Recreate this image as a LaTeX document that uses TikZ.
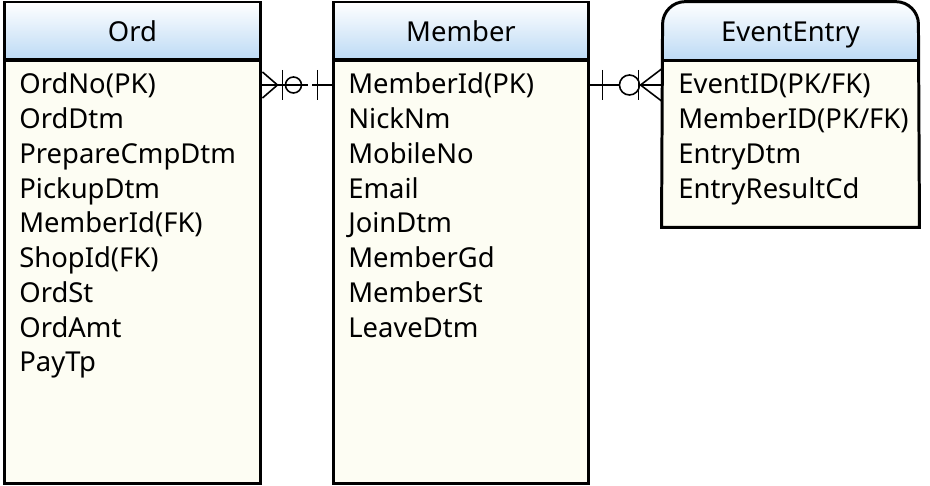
\documentclass[tikz,border=0pt]{standalone}
\usepackage{fontspec}
\setmainfont{Noto Sans}
\usetikzlibrary{backgrounds,calc,positioning}
\definecolor{headblue}{HTML}{BCDAF5}
\definecolor{bodyfill}{HTML}{FDFDF3}
\tikzset{
  entityline/.style={draw=black, line width=1.7pt},
  headbox/.style={
    entityline,
    top color=white,
    bottom color=headblue,
    minimum height=1.16cm,
    inner sep=0pt,
    font=\fontsize{15.6}{18}\selectfont,
  },
  headtext/.style={minimum height=1.16cm, inner sep=0pt},
  bodybox/.style={entityline, fill=bodyfill, inner sep=0pt},
  attr/.style={anchor=base west, inner sep=0pt, font=\fontsize{15.6}{18}\selectfont},
  relline/.style={line width=0.9pt},
}

\begin{document}
\begin{tikzpicture}[x=0.02cm, y=-0.02cm]
  \useasboundingbox (0,0) rectangle (930,486);

  % Ord
  \node[bodybox, minimum width=5.14cm, minimum height=8.48cm] (ordbody) at (132.5,272) {};
  \node[headbox, minimum width=5.14cm] (ordhead) at (132.5,31) {Ord};
  \foreach \attr [count=\i] in {OrdNo(PK), OrdDtm, PrepareCmpDtm, PickupDtm, MemberId(FK),
                                ShopId(FK), OrdSt, OrdAmt, PayTp}
    \node[attr] (ordattr-\i) at (19, 59.25+34.75*\i) {\attr};

  % Member
  \node[bodybox, minimum width=5.12cm, minimum height=8.48cm] (memberbody) at (461,272) {};
  \node[headbox, minimum width=5.12cm] (memberhead) at (461,31) {Member};
  \foreach \attr [count=\i] in {MemberId(PK), NickNm, MobileNo, Email, JoinDtm,
                                MemberGd, MemberSt, LeaveDtm}
    \node[attr] (memattr-\i) at (348, 59.25+34.75*\i) {\attr};

  % EventEntry (rounded top)
  \node[bodybox, draw=none, minimum width=5.1cm, minimum height=3.32cm] (evbody) at (790.5,143) {};
  \node[headtext, minimum width=5.1cm] (evhead) at (790.5,31) {};
  \begin{scope}[on background layer]
    \clip[rounded corners=0.45cm] (evhead.north west) rectangle (evbody.south east);
    \shade[top color=white, bottom color=headblue] (evhead.north west) rectangle (evhead.south east);
  \end{scope}
  \draw[entityline] (evbody.south west) [rounded corners=0.45cm] -- (evhead.north west)
    -- (evhead.north east) [sharp corners] -- (evbody.south east) -- cycle;
  \draw[entityline] (evhead.south west) -- (evhead.south east);
  \node[font=\fontsize{15.6}{18}\selectfont] (evtitle) at ($(evhead.center)+(0,4)$) {EventEntry};
  \foreach \attr [count=\i] in {EventID(PK/FK), MemberID(PK/FK), EntryDtm, EntryResultCd}
    \node[attr] (evattr-\i) at (678, 59.25+34.75*\i) {\attr};

  % Ord >o-|- Member
  \coordinate (om-ord) at ($(ordbody.east |- ordattr-1.base)+(0,-9)$);
  \coordinate (om-mem) at (memberbody.west |- om-ord);
  \draw[relline] (om-ord) -- ($(om-ord)+(39,0)$);
  \draw[relline, dash pattern=on 3.5pt off 2.5pt] ($(om-ord)+(39,0)$) -- ($(om-mem)+(-14,0)$);
  \draw[relline] ($(om-mem)+(-14,0)$) -- (om-mem);
  \draw[relline] ($(om-ord)+(0,-13)$) -- ($(om-ord)+(15,0)$) -- ($(om-ord)+(0,13)$);
  \draw[relline] ($(om-ord)+(20,-15)$) -- ++(0,30);
  \draw[relline] ($(om-ord)+(31,0)$) circle[radius=8];
  \draw[relline] ($(om-mem)+(-14,-15)$) -- ++(0,30);

  % Member -|-o< EventEntry
  \coordinate (me-mem) at ($(memberbody.east |- memattr-1.base)+(0,-9)$);
  \coordinate (me-ev) at (evbody.west |- me-mem);
  \draw[relline] (me-mem) -- (me-ev);
  \draw[relline] ($(me-mem)+(12,-15)$) -- ++(0,30);
  \draw[relline, fill=white] ($(me-mem)+(39,0)$) circle[radius=10];
  \draw[relline] ($(me-ev)+(-23,-15)$) -- ++(0,30);
  \draw[relline] ($(me-ev)+(0,-16)$) -- ($(me-ev)+(-21,0)$) -- ($(me-ev)+(0,16)$);
\end{tikzpicture}
\end{document}
